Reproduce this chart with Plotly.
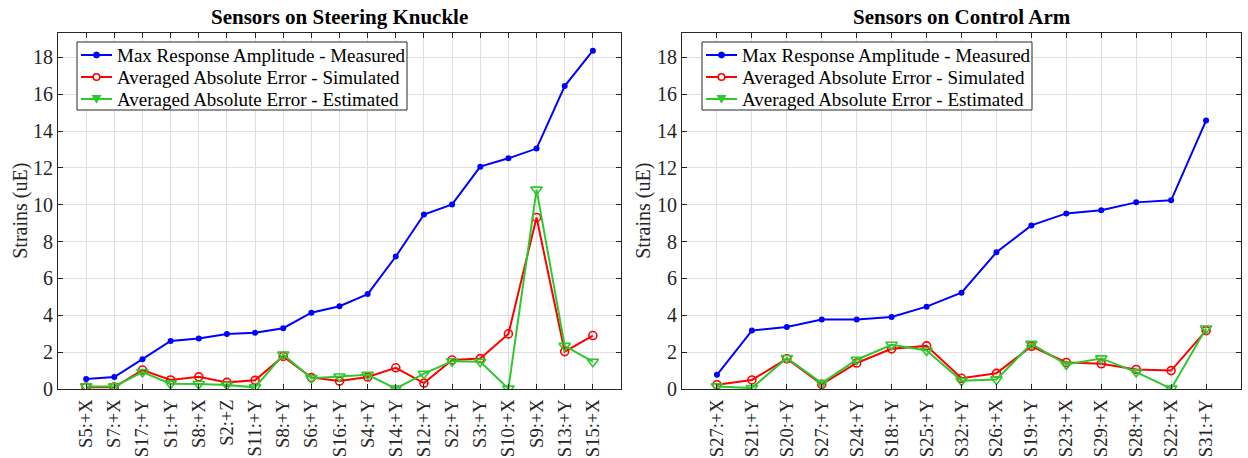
import plotly.graph_objects as go

# ---- Steering knuckle sensors ----
knuckle_sensors = ["S5:+X", "S7:+X", "S17:+Y", "S1:+Y", "S8:+X", "S2:+Z", "S11:+Y",
                   "S8:+Y", "S6:+Y", "S16:+Y", "S4:+Y", "S14:+Y", "S12:+Y", "S2:+Y",
                   "S3:+Y", "S10:+X", "S9:+X", "S13:+Y", "S15:+X"]
knuckle_measured = [0.54, 0.65, 1.62, 2.61, 2.74, 2.99, 3.05, 3.30, 4.14, 4.49, 5.15,
                    7.19, 9.47, 10.02, 12.07, 12.52, 13.05, 16.44, 18.36]
knuckle_simulated = [0.10, 0.10, 1.03, 0.49, 0.66, 0.36, 0.47, 1.77, 0.62, 0.43, 0.65,
                     1.15, 0.32, 1.57, 1.65, 2.99, 9.31, 2.03, 2.90]
knuckle_estimated = [0.14, 0.14, 0.92, 0.29, 0.27, 0.22, 0.09, 1.87, 0.59, 0.68, 0.77,
                     0.02, 0.83, 1.51, 1.48, 0.02, 10.82, 2.34, 1.48]

# ---- Control arm sensors ----
arm_sensors = ["S27:+X", "S21:+Y", "S20:+Y", "S27:+Y", "S24:+Y", "S18:+Y", "S25:+Y",
               "S32:+Y", "S26:+X", "S19:+Y", "S23:+X", "S29:+X", "S28:+X", "S22:+X",
               "S31:+Y"]
arm_measured = [0.77, 3.17, 3.37, 3.77, 3.77, 3.91, 4.47, 5.23, 7.42, 8.88, 9.53,
                9.70, 10.13, 10.24, 14.57]
arm_simulated = [0.23, 0.49, 1.64, 0.25, 1.41, 2.18, 2.34, 0.58, 0.85, 2.32, 1.44,
                 1.37, 1.06, 1.00, 3.17]
arm_estimated = [0.14, 0.05, 1.68, 0.32, 1.59, 2.40, 2.09, 0.45, 0.52, 2.45, 1.33,
                 1.66, 0.92, 0.02, 3.28]

series_names = ["Max Response Amplitude - Measured",
                "Averaged Absolute Error - Simulated",
                "Averaged Absolute Error - Estimated"]
titles = ["Sensors on Steering Knuckle", "Sensors on Control Arm"]
y_title = "Strains (uE)"

W, H = 1248, 458
FONT = "Liberation Serif, Times New Roman, serif"
AX = "#262626"
BLUE, RED, GREEN = "#0000ff", "#ff0000", "#2ec82e"
COLORS = [BLUE, RED, GREEN]


def px(x, y):
    """Pixel position -> paper coordinates."""
    return x / W, 1 - y / H


fig = go.Figure()

panels = [
    (knuckle_sensors, knuckle_measured, knuckle_simulated, knuckle_estimated, "x", "y"),
    (arm_sensors, arm_measured, arm_simulated, arm_estimated, "x2", "y2"),
]

for cats, meas, sim, est, xa, ya in panels:
    fig.add_trace(go.Scatter(
        x=cats, y=meas, name=series_names[0], xaxis=xa, yaxis=ya, showlegend=False,
        mode="lines+markers", line=dict(color=BLUE, width=2),
        marker=dict(symbol="circle", size=6, color=BLUE)))
    fig.add_trace(go.Scatter(
        x=cats, y=sim, name=series_names[1], xaxis=xa, yaxis=ya, showlegend=False,
        mode="lines+markers", line=dict(color=RED, width=2),
        marker=dict(symbol="circle-open", size=8, color=RED, line=dict(width=1.6))))
    fig.add_trace(go.Scatter(
        x=cats, y=est, name=series_names[2], xaxis=xa, yaxis=ya, showlegend=False,
        mode="lines+markers", line=dict(color=GREEN, width=2),
        marker=dict(symbol="triangle-down-open", size=10, color=GREEN, line=dict(width=1.6))))

# plot-area placement in pixels
left_px = (58, 621)
right_px = (682, 1241)
top_px, bottom_px = 32.5, 389
ydom = [1 - bottom_px / H, 1 - top_px / H]

common_x = dict(
    type="category", showgrid=True, gridcolor="#dfdfdf", gridwidth=1,
    showline=True, linecolor=AX, linewidth=1, mirror="ticks",
    ticks="inside", ticklen=5, tickcolor=AX, tickangle=-90, automargin=False,
    tickfont=dict(family=FONT, size=18.5, color=AX), zeroline=False,
    ticklabelstandoff=2,
)
common_y = dict(
    range=[0, 19.35], dtick=2, tick0=0, showgrid=True, gridcolor="#dfdfdf", gridwidth=1,
    showline=True, linecolor=AX, linewidth=1, mirror="ticks", automargin=False,
    ticks="inside", ticklen=5, tickcolor=AX,
    tickfont=dict(family=FONT, size=20, color=AX), zeroline=False,
)

fig.update_layout(
    width=W, height=H,
    margin=dict(l=0, r=0, t=0, b=0),
    paper_bgcolor="white", plot_bgcolor="white",
    font=dict(family=FONT, color=AX),
    showlegend=False,
    xaxis=dict(common_x, domain=[left_px[0] / W, left_px[1] / W],
               range=[-1, len(knuckle_sensors)], anchor="y"),
    yaxis=dict(common_y, domain=ydom, anchor="x"),
    xaxis2=dict(common_x, domain=[right_px[0] / W, right_px[1] / W],
                range=[-1, len(arm_sensors)], anchor="y2"),
    yaxis2=dict(common_y, domain=ydom, anchor="x2"),
)

# panel titles and y-axis titles
for (x0, x1), title in zip([left_px, right_px], titles):
    fig.add_annotation(x=(x0 + x1) / 2 / W, y=1 - 17 / H, xref="paper", yref="paper",
                       text=f"<b>{title}</b>", showarrow=False,
                       font=dict(family=FONT, size=21, color="black"),
                       xanchor="center", yanchor="middle")
for xpx in (21, 644):
    fig.add_annotation(x=xpx / W, y=(ydom[0] + ydom[1]) / 2, xref="paper", yref="paper",
                       text=y_title, showarrow=False, textangle=-90,
                       font=dict(family=FONT, size=20, color=AX),
                       xanchor="center", yanchor="middle")

# legend boxes (one per panel), drawn as shapes + annotations
shapes = []
row_y = [55, 77, 99]
for box_left in (77, 702):
    bx0, by0 = px(box_left, 42)
    bx1, by1 = px(box_left + 330, 110)
    shapes.append(dict(type="rect", xref="paper", yref="paper", x0=bx0, y0=by1,
                       x1=bx1, y1=by0, fillcolor="white",
                       line=dict(color=AX, width=1), layer="above"))
    l0, l1 = box_left + 4, box_left + 35
    cx = (l0 + l1) / 2
    for i, (name, col) in enumerate(zip(series_names, COLORS)):
        yy = row_y[i]
        a, b = px(l0, yy)
        c, _ = px(l1, yy)
        shapes.append(dict(type="line", xref="paper", yref="paper", x0=a, y0=b,
                           x1=c, y1=b, line=dict(color=col, width=2), layer="above"))
        if i == 0:
            p0 = px(cx - 3, yy - 3)
            p1 = px(cx + 3, yy + 3)
            shapes.append(dict(type="circle", xref="paper", yref="paper",
                               x0=p0[0], y0=p1[1], x1=p1[0], y1=p0[1],
                               fillcolor=col, line=dict(color=col, width=1), layer="above"))
        elif i == 1:
            p0 = px(cx - 3.3, yy - 3.3)
            p1 = px(cx + 3.3, yy + 3.3)
            shapes.append(dict(type="circle", xref="paper", yref="paper",
                               x0=p0[0], y0=p1[1], x1=p1[0], y1=p0[1],
                               fillcolor="white", line=dict(color=col, width=1.6),
                               layer="above"))
        else:
            t1 = px(cx - 4, yy - 3.5)
            t2 = px(cx + 4, yy - 3.5)
            t3 = px(cx, yy + 3.5)
            path = f"M{t1[0]},{t1[1]} L{t2[0]},{t2[1]} L{t3[0]},{t3[1]} Z"
            shapes.append(dict(type="path", xref="paper", yref="paper", path=path,
                               fillcolor=col, line=dict(color=col, width=1.2),
                               layer="above"))
        tx, ty = px(box_left + 38, yy)
        fig.add_annotation(x=tx, y=ty, xref="paper", yref="paper", text=name,
                           showarrow=False, xanchor="left", yanchor="middle",
                           font=dict(family=FONT, size=19, color="black"))

fig.update_layout(shapes=shapes)

fig.write_html("out.html")
